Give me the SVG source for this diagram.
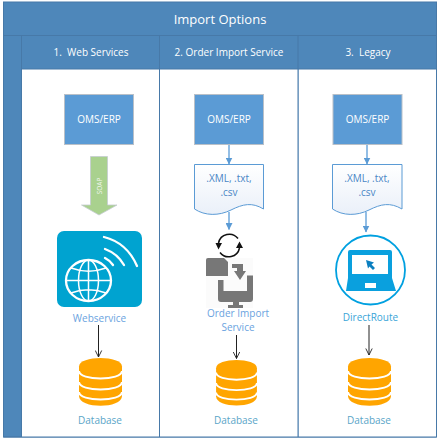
<svg xmlns="http://www.w3.org/2000/svg" width="442" height="444" viewBox="0 0 442 444">
<defs>
<linearGradient id="docg" x1="0" y1="0" x2="0" y2="1"><stop offset="0" stop-color="#ffffff"/><stop offset="1" stop-color="#eaf0f9"/></linearGradient>
<marker id="blue" viewBox="0 0 7 7" refX="6.500" refY="3.500" markerWidth="7" markerHeight="7" markerUnits="userSpaceOnUse" orient="auto"><path d="M0 0L7 3.500L0 7Z" fill="#5b9bd5"/></marker>
<marker id="open" viewBox="0 0 8 8" refX="7.500" refY="4" markerWidth="8" markerHeight="8" markerUnits="userSpaceOnUse" orient="auto"><path d="M1 0.800L7.500 4L1 7.200" fill="none" stroke="#222" stroke-width="0.900"/></marker>
<g id="db">
<path d="M-21.500 -15.500C-21.500 -27 21.500 -27 21.500 -15.500V14C21.500 27 -21.500 27 -21.500 14Z" fill="#ffa500"/>
<path d="M-21.500 -11C-21.500 -1 21.500 -1 21.500 -11M-21.500 0C-21.500 10 21.500 10 21.500 0M-21.500 10C-21.500 20 21.500 20 21.500 10" fill="none" stroke="#fff" stroke-width="2"/>
</g>
</defs>
<style>
text{font-family:"Open Sans","Liberation Sans",Arial,sans-serif;text-anchor:middle}
.hd{fill:#fff;font-size:10px}
.oms{fill:#5b9bd5;stroke:#b9c0c8;stroke-width:1}
.omst{fill:#fff;font-size:10px}
.doc{fill:url(#docg);stroke:#5b9bd5;stroke-width:1}
.doct{fill:#4a86c5;font-size:10px}
.lbl{fill:#6aa3e0;font-size:10px}
.drl{fill:#3aa5d8;font-size:10px}
.dbl{fill:#5aa5c8;font-size:10px}
.con{fill:none;stroke:#6fa8dc;stroke-width:1.500;marker-end:url(#blue)}
.blk{fill:none;stroke:#222;stroke-width:1;marker-end:url(#open)}
</style>
<rect width="442" height="444" fill="#fff"/>
<g id="frame">
<rect x="3.500" y="2" width="433" height="435" fill="#4e87ba" stroke="#4779a8"/>
<rect x="21.500" y="69" width="138" height="368" fill="#fff"/>
<rect x="160" y="69" width="138" height="368" fill="#fff"/>
<rect x="298.500" y="69" width="138" height="368" fill="#fff"/>
<path d="M3.500 35.500H436.500M21.500 35.500V437M159.500 35.500V437M298 35.500V437M21.500 69H436.500M3.500 437H436.500M436.500 2V437" fill="none" stroke="#4779a8" stroke-width="1"/>
<text x="220" y="24" fill="#fff" font-size="13">Import Options</text>
</g>
<g id="col1-header"><text class="hd" x="91" y="56" xml:space="preserve">1.  Web Services</text></g>
<g id="col2-header"><text class="hd" x="229" y="56" xml:space="preserve">2. Order Import Service</text></g>
<g id="col3-header"><text class="hd" x="368" y="56" xml:space="preserve">3.  Legacy</text></g>

<g id="connectors">
<path class="con" d="M229 144V164"/>
<path class="con" d="M229 212V229.500"/>
<path class="con" d="M367 144V164"/>
<path class="con" d="M366 212V232"/>
<path class="blk" d="M98.500 325V357"/>
<path class="blk" d="M236.500 335V358.500"/>
<path class="blk" d="M369 325V355"/>
</g>

<g id="oms1"><rect class="oms" x="64.500" y="94.500" width="69" height="50"/><text class="omst" x="99" y="123">OMS/ERP</text></g>
<g id="oms2"><rect class="oms" x="194.500" y="94.500" width="69" height="50"/><text class="omst" x="229" y="123">OMS/ERP</text></g>
<g id="oms3"><rect class="oms" x="333" y="94.500" width="69" height="50"/><text class="omst" x="367.500" y="123">OMS/ERP</text></g>

<g id="soap">
<path d="M90.500 156.500H107.500V205H117L99 215L81.500 205H90.500Z" fill="#a9d18e" stroke="#c5ccd2" stroke-width="0.800"/>
<text transform="translate(102 186) rotate(-90)" fill="#f2f7ee" font-size="6.500">SOAP</text>
</g>

<g id="webservice">
<rect x="57" y="231" width="85" height="76" rx="7" fill="#00a3d0"/>
<g fill="none" stroke="#fff" stroke-linecap="round">
<path d="M104 237C120 241 131 252 137 266" stroke-width="2.300"/>
<path d="M105 249C113 252 120 258 124 265" stroke-width="2.300"/>
<path d="M105 258C108 259.500 111 262 113 265" stroke-width="2.300"/>
<g stroke-width="1.500">
<ellipse cx="88.500" cy="280.500" rx="22.500" ry="20.500" stroke-width="2.300"/>
<ellipse cx="88.500" cy="280.500" rx="10" ry="20.500"/>
<path d="M88.500 260V301M66 280.500H111M71 268C82 272 95 272 106 268M71 293C82 289 95 289 106 293"/>
</g>
</g>
<text class="lbl" x="99.500" y="322">Webservice</text>
</g>

<g id="doc2">
<path class="doc" d="M194.500 164.500H263.500V209C252 202 243 204 231 210C219 216 205 216 194.500 209Z"/>
<text class="doct" x="229" y="182">.XML, .txt,</text>
<text class="doct" x="229" y="196">.csv</text>
</g>
<g id="doc3">
<path class="doc" d="M332.500 164.500H402V209C390 202 381 204 369 210C357 216 343 216 332.500 209Z"/>
<text class="doct" x="367" y="182">.XML, .txt,</text>
<text class="doct" x="367" y="196">.csv</text>
</g>

<g id="order-import">
<rect x="206" y="258" width="47" height="50" fill="#fbfbfb"/>
<g fill="none" stroke="#111" stroke-width="1.500">
<path d="M218.500 243A11 11 0 0 1 238 238.500"/>
<path d="M239.500 248A11 11 0 0 1 220 252.500"/>
</g>
<path d="M215.500 243L222 243L218.500 249.500ZM236 248L243 248L239.500 241.500Z" fill="#111"/>
<path d="M206 260Q206 258 208 258H224L228 262V276H206Z" fill="#777"/>
<path d="M232 264H243V271H246L240 280L234 271H237V268H232Z" fill="#777"/>
<path d="M218 280H223.500V291H247V275.500H253V299Q253 302 250 302H221Q218 302 218 299Z" fill="#777"/>
<rect x="233" y="302" width="6" height="4" fill="#777"/>
<rect x="228" y="305" width="15" height="3" fill="#777"/>
<text class="lbl" x="238" y="317">Order Import</text>
<text class="lbl" x="238" y="331">Service</text>
</g>

<g id="directroute">
<circle cx="370.500" cy="270" r="34.500" fill="#fff" stroke="#00a0e0" stroke-width="1.800"/>
<path d="M348 252Q348 250 350 250H390Q392 250 392 252V278L396 291H346L348 278Z" fill="#0aa0de"/>
<rect x="352" y="255" width="36" height="19" fill="#fff"/>
<rect x="365" y="283" width="11" height="5" fill="#fff"/>
<path d="M366 260L374 262.500L371.500 264.500L375 268L373 270L369.500 266.500L368 268.500Z" fill="#0b7fc0"/>
<text class="drl" x="370.500" y="321">DirectRoute</text>
</g>

<g id="db1"><use href="#db" x="100.500" y="382"/><text class="dbl" x="100" y="424">Database</text></g>
<g id="db2"><use href="#db" transform="translate(236.500 383) scale(0.950)"/><text class="dbl" x="236" y="424">Database</text></g>
<g id="db3"><use href="#db" x="369.500" y="382"/><text class="dbl" x="369" y="424">Database</text></g>
</svg>
